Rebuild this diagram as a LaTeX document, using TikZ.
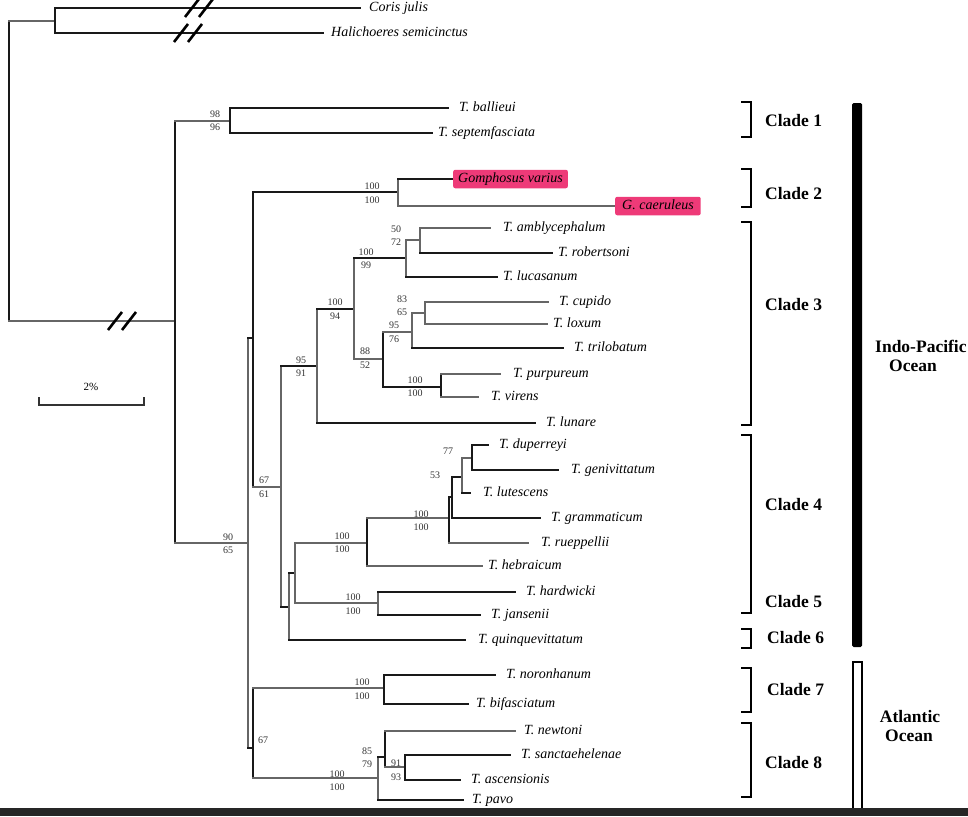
\documentclass[tikz,border=0pt]{standalone}
\usepackage{fontspec}
\setmainfont{Liberation Serif}
\definecolor{hot}{RGB}{238,58,120}
\begin{document}
\begin{tikzpicture}[x=1pt,y=-1pt,
  thk/.style={line width=2.4pt, draw=black!90, line cap=rect},
  thn/.style={line width=1.3pt, draw=black!60, line cap=rect},
  tip/.style={anchor=west, inner sep=0pt, xshift=6pt, font=\fontsize{14}{14}\selectfont\itshape, text height=9.5pt, text depth=3pt},
  bs/.style={inner sep=0pt, font=\fontsize{10}{10}\selectfont, text=black!80},
  clade/.style={anchor=west, inner sep=0pt, font=\fontsize{17.5}{17.5}\selectfont\bfseries},
  brk/.style={line width=2.5pt, draw=black},
  pinkbox/.style={anchor=west, fill=hot, rounded corners=2pt, inner xsep=5pt, inner ysep=3pt, font=\fontsize{14}{14}\selectfont\itshape, text height=9.5pt, text depth=3pt},
  slash/.style={line width=2.6pt, draw=black},
]
\useasboundingbox (0,0) rectangle (968,816);

% ---------- outgroup ----------
\coordinate (root) at (9,171);
\coordinate (og) at (55,21);
\coordinate (ing) at (175,321);
\coordinate (cor) at (360,8);
\coordinate (hal) at (323,33);
\draw[thk] (root |- og) -- (root |- ing);
\draw[thn] (root |- og) -- (og);
\draw[thn] (root |- ing) -- (ing);
\draw[thk] (og |- cor) -- (og |- hal);
\draw[thk] (og |- cor) -- (cor);
\draw[thk] (og |- hal) -- (hal);
\node[tip, xshift=3pt] (Lcor) at (cor) {Coris julis};
\node[tip, xshift=2pt] (Lhal) at (hal) {Halichoeres semicinctus};
\foreach \sx in {192,206} \draw[slash] (\sx-7,17) -- (\sx+7,-1);
\foreach \sx in {181,195} \draw[slash] (\sx-7,42) -- (\sx+7,24);
\foreach \sx in {115,129} \draw[slash] (\sx-7,330) -- (\sx+7,312);

% ---------- ingroup ----------
\coordinate (c1) at (230,121);
\coordinate (n90) at (248,543);
\draw[thk] (ing |- c1) -- (ing |- n90);
\draw[thn] (ing |- c1) -- (c1);
\draw[thn] (ing |- n90) -- (n90);

% clade 1
\coordinate (bal) at (448,108);
\coordinate (sep) at (432,133);
\draw[thk] (c1 |- bal) -- (c1 |- sep);
\draw[thk] (c1 |- bal) -- (bal);
\draw[thk] (c1 |- sep) -- (sep);

% n90
\coordinate (ntop) at (253,338);
\coordinate (natl) at (253,748);
\draw[thn] (n90 |- ntop) -- (n90 |- natl);
\draw[thk] (n90 |- ntop) -- (ntop);
\draw[thk] (n90 |- natl) -- (natl);

% ntop
\coordinate (c2) at (398,192);
\coordinate (n67) at (281,487);
\draw[thk] (ntop |- c2) -- (ntop |- n67);
\draw[thk] (ntop |- c2) -- (c2);
\draw[thn] (ntop |- n67) -- (n67);

% clade 2
\coordinate (gom) at (453,179);
\coordinate (gca) at (615,206);
\draw[thn] (c2 |- gom) -- (c2 |- gca);
\draw[thk] (c2 |- gom) -- (gom);
\draw[thn] (c2 |- gca) -- (gca);

% n67
\coordinate (n95) at (317,366);
\coordinate (nb1) at (289,607);
\draw[thn] (n67 |- n95) -- (n67 |- nb1);
\draw[thk] (n67 |- n95) -- (n95);
\draw[thk] (n67 |- nb1) -- (nb1);

% clade 3
\coordinate (na) at (354,309);
\coordinate (lun) at (535,423);
\draw[thn] (n95 |- na) -- (n95 |- lun);
\draw[thk] (n95 |- na) -- (na);
\draw[thk] (n95 |- lun) -- (lun);

\coordinate (nb) at (406,258);
\coordinate (n88) at (383,359);
\draw[thn] (na |- nb) -- (na |- n88);
\draw[thk] (na |- nb) -- (nb);
\draw[thn] (na |- n88) -- (n88);

\coordinate (n50) at (420,240);
\coordinate (luc) at (497,277);
\draw[thn] (nb |- n50) -- (nb |- luc);
\draw[thn] (nb |- n50) -- (n50);
\draw[thk] (nb |- luc) -- (luc);

\coordinate (amb) at (490,228);
\coordinate (rob) at (552,253);
\draw[thn] (n50 |- amb) -- (n50 |- rob);
\draw[thn] (n50 |- amb) -- (amb);
\draw[thk] (n50 |- rob) -- (rob);

\coordinate (n95b) at (412,332);
\coordinate (npu) at (441,387);
\draw[thk] (n88 |- n95b) -- (n88 |- npu);
\draw[thn] (n88 |- n95b) -- (n95b);
\draw[thk] (n88 |- npu) -- (npu);

\coordinate (n83) at (425,313);
\coordinate (tri) at (563,348);
\draw[thn] (n95b |- n83) -- (n95b |- tri);
\draw[thn] (n95b |- n83) -- (n83);
\draw[thk] (n95b |- tri) -- (tri);

\coordinate (cup) at (548,302);
\coordinate (lox) at (547,324);
\draw[thn] (n83 |- cup) -- (n83 |- lox);
\draw[thn] (n83 |- cup) -- (cup);
\draw[thn] (n83 |- lox) -- (lox);

\coordinate (pur) at (500,374);
\coordinate (vir) at (478,397);
\draw[thk] (npu |- pur) -- (npu |- vir);
\draw[thn] (npu |- pur) -- (pur);
\draw[thn] (npu |- vir) -- (vir);

% clades 4-6
\coordinate (nb2) at (295,573);
\coordinate (qui) at (465,640);
\draw[thn] (nb1 |- nb2) -- (nb1 |- qui);
\draw[thk] (nb1 |- nb2) -- (nb2);
\draw[thk] (nb1 |- qui) -- (qui);

\coordinate (nheb) at (367,543);
\coordinate (nhar) at (378,603);
\draw[thn] (nb2 |- nheb) -- (nb2 |- nhar);
\draw[thn] (nb2 |- nheb) -- (nheb);
\draw[thn] (nb2 |- nhar) -- (nhar);

\coordinate (nA) at (449,518);
\coordinate (heb) at (482,566);
\draw[thk] (nheb |- nA) -- (nheb |- heb);
\draw[thn] (nheb |- nA) -- (nA);
\draw[thn] (nheb |- heb) -- (heb);

\coordinate (nA2) at (452,497);
\coordinate (rue) at (528,543);
\draw[thk] (nA |- nA2) -- (nA |- rue);
\draw[thk] (nA |- nA2) -- (nA2);
\draw[thn] (nA |- rue) -- (rue);

\coordinate (nB) at (462,477);
\coordinate (gra) at (540,518);
\draw[thk] (nA2 |- nB) -- (nA2 |- gra);
\draw[thk] (nA2 |- nB) -- (nB);
\draw[thk] (nA2 |- gra) -- (gra);

\coordinate (nC) at (472,458);
\coordinate (lut) at (470,493);
\draw[thn] (nB |- nC) -- (nB |- lut);
\draw[thn] (nB |- nC) -- (nC);
\draw[thk] (nB |- lut) -- (lut);

\coordinate (dup) at (488,445);
\coordinate (gen) at (558,470);
\draw[thk] (nC |- dup) -- (nC |- gen);
\draw[thk] (nC |- dup) -- (dup);
\draw[thk] (nC |- gen) -- (gen);

\coordinate (har) at (515,592);
\coordinate (jan) at (480,615);
\draw[thn] (nhar |- har) -- (nhar |- jan);
\draw[thk] (nhar |- har) -- (har);
\draw[thk] (nhar |- jan) -- (jan);

% Atlantic clades 7-8
\coordinate (n7) at (384,688);
\coordinate (n8) at (378,778);
\draw[thk] (natl |- n7) -- (natl |- n8);
\draw[thn] (natl |- n7) -- (n7);
\draw[thn] (natl |- n8) -- (n8);

\coordinate (nor) at (495,675);
\coordinate (bif) at (468,704);
\draw[thk] (n7 |- nor) -- (n7 |- bif);
\draw[thk] (n7 |- nor) -- (nor);
\draw[thk] (n7 |- bif) -- (bif);

\coordinate (n85) at (385,757);
\coordinate (pav) at (463,800);
\draw[thn] (n8 |- n85) -- (n8 |- pav);
\draw[thk] (n8 |- n85) -- (n85);
\draw[thk] (n8 |- pav) -- (pav);

\coordinate (new) at (515,731);
\coordinate (n91) at (405,767);
\draw[thk] (n85 |- new) -- (n85 |- n91);
\draw[thn] (n85 |- new) -- (new);
\draw[thn] (n85 |- n91) -- (n91);

\coordinate (san) at (510,755);
\coordinate (asc) at (460,780);
\draw[thk] (n91 |- san) -- (n91 |- asc);
\draw[thk] (n91 |- san) -- (san);
\draw[thk] (n91 |- asc) -- (asc);

% ---------- tip labels ----------
\node[tip, xshift=5pt] (Lbal) at (bal) {T. ballieui};
\node[tip] (Lsep) at (sep) {T. septemfasciata};
\node[pinkbox] (Lgom) at (gom) {Gomphosus varius};
\node[pinkbox, inner xsep=7pt] (Lgca) at (gca) {G. caeruleus};
\node[tip, xshift=7pt] (Lamb) at (amb) {T. amblycephalum};
\node[tip] (Lrob) at (rob) {T. robertsoni};
\node[tip] (Lluc) at (luc) {T. lucasanum};
\node[tip, xshift=5pt] (Lcup) at (cup) {T. cupido};
\node[tip] (Llox) at (lox) {T. loxum};
\node[tip, xshift=5pt] (Ltri) at (tri) {T. trilobatum};
\node[tip, xshift=7pt] (Lpur) at (pur) {T. purpureum};
\node[tip, xshift=7pt] (Lvir) at (vir) {T. virens};
\node[tip, xshift=5pt] (Llun) at (lun) {T. lunare};
\node[tip, xshift=5pt] (Ldup) at (dup) {T. duperreyi};
\node[tip, xshift=7pt] (Lgen) at (gen) {T. genivittatum};
\node[tip, xshift=7pt] (Llut) at (lut) {T. lutescens};
\node[tip, xshift=5pt] (Lgra) at (gra) {T. grammaticum};
\node[tip, xshift=7pt] (Lrue) at (rue) {T. rueppellii};
\node[tip] (Lheb) at (heb) {T. hebraicum};
\node[tip, xshift=5pt] (Lhar) at (har) {T. hardwicki};
\node[tip, xshift=5pt] (Ljan) at (jan) {T. jansenii};
\node[tip, xshift=7pt] (Lqui) at (qui) {T. quinquevittatum};
\node[tip, xshift=5pt] (Lnor) at (nor) {T. noronhanum};
\node[tip, xshift=2pt] (Lbif) at (bif) {T. bifasciatum};
\node[tip, xshift=3pt] (Lnew) at (new) {T. newtoni};
\node[tip, xshift=5pt] (Lsan) at (san) {T. sanctaehelenae};
\node[tip, xshift=5pt] (Lasc) at (asc) {T. ascensionis};
\node[tip, xshift=3pt] (Lpav) at (pav) {T. pavo};

% ---------- support values ----------
\node[bs] (s1a) at (215,114) {98};   \node[bs] (s1b) at (215,127) {96};
\node[bs] (s2a) at (372,186) {100};  \node[bs] (s2b) at (372,200) {100};
\node[bs] (s3a) at (396,229) {50};   \node[bs] (s3b) at (396,242) {72};
\node[bs] (s4a) at (366,252) {100};  \node[bs] (s4b) at (366,265) {99};
\node[bs] (s5a) at (335,302) {100};  \node[bs] (s5b) at (335,316) {94};
\node[bs] (s6a) at (301,360) {95};   \node[bs] (s6b) at (301,373) {91};
\node[bs] (s7a) at (402,299) {83};   \node[bs] (s7b) at (402,312) {65};
\node[bs] (s8a) at (394,325) {95};   \node[bs] (s8b) at (394,339) {76};
\node[bs] (s9a) at (365,351) {88};   \node[bs] (s9b) at (365,365) {52};
\node[bs] (s10a) at (415,380) {100}; \node[bs] (s10b) at (415,393) {100};
\node[bs] (s11a) at (264,480) {67};  \node[bs] (s11b) at (264,494) {61};
\node[bs] (s12a) at (228,537) {90};  \node[bs] (s12b) at (228,550) {65};
\node[bs] (s13) at (448,451) {77};
\node[bs] (s14) at (435,475) {53};
\node[bs] (s15a) at (421,514) {100}; \node[bs] (s15b) at (421,527) {100};
\node[bs] (s16a) at (342,536) {100}; \node[bs] (s16b) at (342,549) {100};
\node[bs] (s17a) at (353,597) {100}; \node[bs] (s17b) at (353,611) {100};
\node[bs] (s18a) at (362,682) {100}; \node[bs] (s18b) at (362,696) {100};
\node[bs] (s19) at (263,740) {67};
\node[bs] (s20a) at (337,774) {100}; \node[bs] (s20b) at (337,787) {100};
\node[bs] (s21a) at (367,751) {85};  \node[bs] (s21b) at (367,764) {79};
\node[bs] (s22a) at (396,763) {91};  \node[bs] (s22b) at (396,777) {93};

% ---------- scale bar ----------
\draw[line width=2pt, draw=black!80] (39,397) -- (39,405) -- (144,405) -- (144,397);
\node[inner sep=0pt, font=\fontsize{11}{11}\selectfont] (scl) at (91,387) {2\%};

% ---------- clade brackets ----------
\draw[brk] (741,102) -- (751,102) -- (751,137) -- (741,137);
\draw[brk] (741,169) -- (751,169) -- (751,207) -- (741,207);
\draw[brk] (741,222) -- (751,222) -- (751,425) -- (741,425);
\draw[brk] (741,435) -- (751,435) -- (751,613) -- (741,613);
\draw[brk] (741,629) -- (751,629) -- (751,648) -- (741,648);
\draw[brk] (741,668) -- (751,668) -- (751,712) -- (741,712);
\draw[brk] (741,723) -- (751,723) -- (751,797) -- (741,797);
\node[clade] (k1) at (765,121) {Clade 1};
\node[clade] (k2) at (765,194) {Clade 2};
\node[clade] (k3) at (765,305) {Clade 3};
\node[clade] (k4) at (765,505) {Clade 4};
\node[clade] (k5) at (765,602) {Clade 5};
\node[clade] (k6) at (767,638) {Clade 6};
\node[clade] (k7) at (767,690) {Clade 7};
\node[clade] (k8) at (765,763) {Clade 8};

% ---------- ocean bars ----------
\fill[black, rounded corners=1.5pt] (852,103) rectangle (862,647);
\draw[line width=1.6pt, fill=white] (853,662) rectangle (862,812);
\node[clade] (ip1) at (875,346) {Indo-Pacific};
\node[clade, anchor=center] (ip2) at (913,366) {Ocean};
\node[clade, anchor=center] (at1) at (910,717) {Atlantic};
\node[clade, anchor=center] (at2) at (909,736) {Ocean};

% bottom strip
\fill[black!85] (0,808) rectangle (968,816);
\end{tikzpicture}
\end{document}
